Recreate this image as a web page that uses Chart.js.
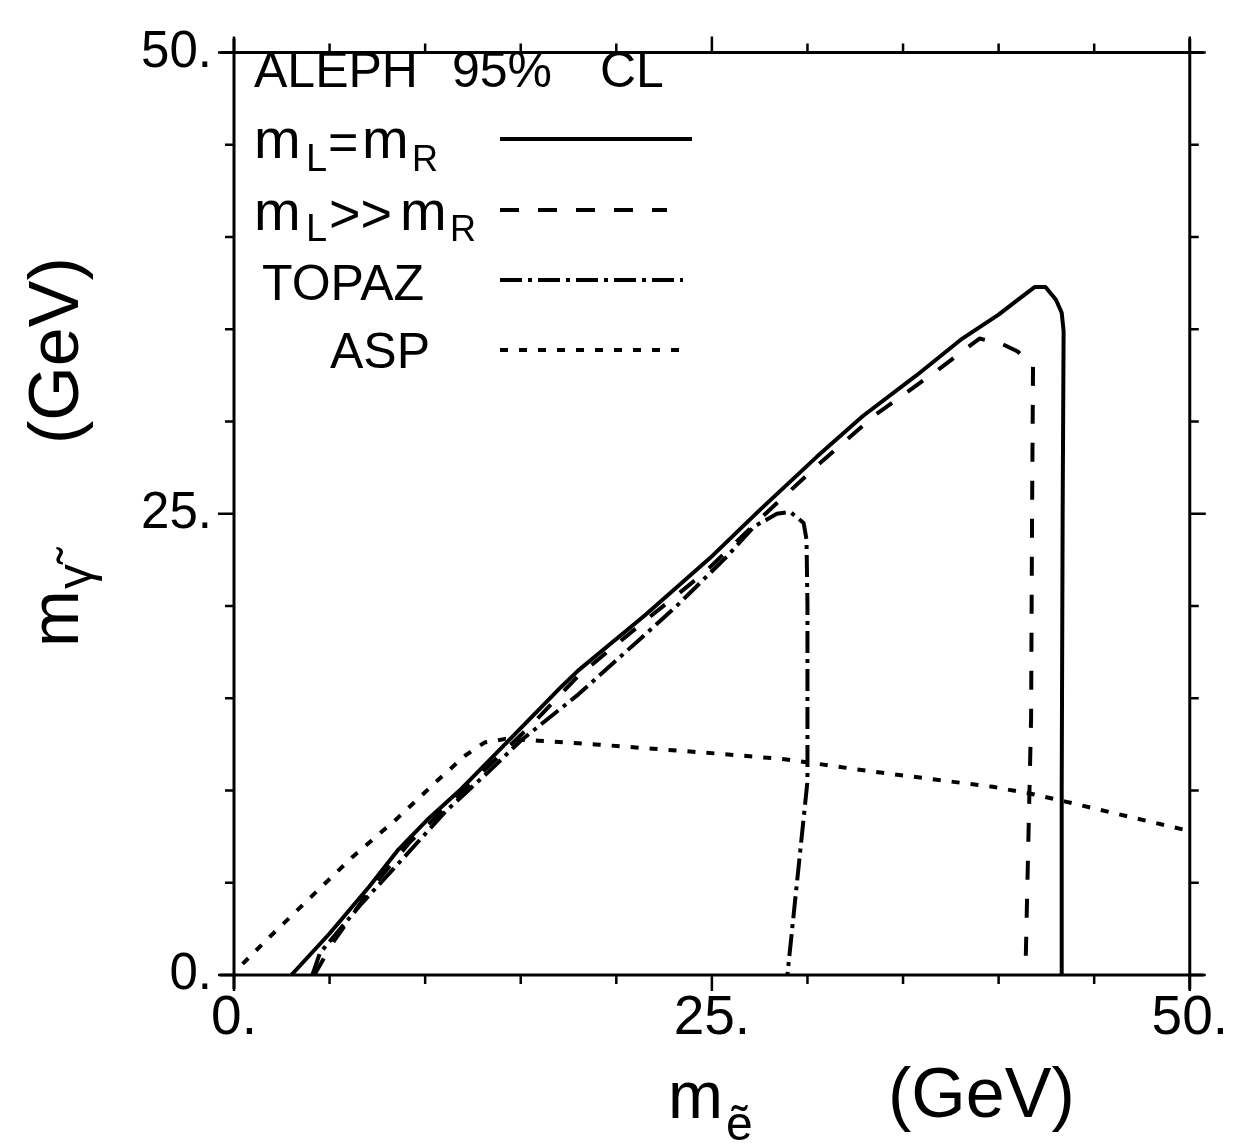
<!DOCTYPE html>
<html>
<head>
<meta charset="utf-8">
<script src="https://cdn.jsdelivr.net/npm/chart.js@4.4.1/dist/chart.umd.min.js"></script>
<style>
  html, body { margin: 0; padding: 0; background: #fff; }
  canvas { display: block; }
</style>
</head>
<body>
<canvas id="limits" width="1239" height="1146"></canvas>
<script>
// ALEPH 95% CL excluded region, selectron mass (x) vs photino mass (y), GeV

// m_L = m_R (solid)
const eqX = [3.0, 5.0, 7.08, 8.6, 10.2, 11.9, 13.7, 15.4, 17.1, 18.0, 21.5, 24.9, 27.5, 30.5, 32.9, 35.7, 38.1, 40.0, 41.0, 41.9, 42.45, 43.0, 43.3, 43.4, 43.35, 43.3, 43.3];
const eqY = [0, 2.25, 4.8, 6.8, 8.5, 10.1, 12.0, 13.8, 15.6, 16.5, 19.5, 22.6, 25.2, 28.1, 30.3, 32.5, 34.5, 35.8, 36.6, 37.3, 37.3, 36.6, 35.9, 34.9, 25.0, 10.0, 0];

// m_L >> m_R (dashed)
const llX = [4.2, 5.2, 7.1, 9.2, 11.9, 13.9, 15.6, 18.0, 21.5, 24.6, 27.7, 30.6, 33.6, 36.7, 39.0, 40.2, 41.0, 41.8, 41.75, 41.7, 41.4];
const llY = [0, 1.8, 4.6, 7.2, 9.9, 11.9, 13.6, 16.2, 19.2, 21.8, 24.9, 27.7, 30.4, 32.7, 34.5, 34.2, 33.8, 33.0, 25.0, 14.0, 0];

// TOPAZ (dash-dot)
const topazX = [4.1, 4.5, 6.7, 9.0, 11.1, 13.3, 15.0, 18.0, 21.5, 23.2, 25.8, 27.2, 28.4, 29.1, 29.8, 29.95, 30.0, 30.0, 28.95];
const topazY = [0, 1.2, 3.9, 6.5, 8.9, 11.0, 12.7, 15.2, 18.45, 20.05, 22.7, 24.3, 25.0, 25.1, 24.5, 23.6, 20.0, 10.5, 0];

// ASP (dotted)
const aspX = [0.45, 1.9, 4.1, 6.2, 8.5, 10.6, 12.1, 13.1, 14.2, 15.9, 18.9, 24.7, 28.8, 33.6, 39.7, 41.8, 43.5, 50];
const aspY = [0.6, 2.1, 4.3, 6.4, 8.45, 10.5, 11.9, 12.6, 12.8, 12.7, 12.5, 12.05, 11.7, 11.0, 10.2, 9.8, 9.4, 7.8];

const tickStep = 5;
const labelledTicks = [0, 25, 50];

const FONT = "'Liberation Sans', Arial, sans-serif";

function pts(xs, ys) {
    return xs.map((x, i) => ({ x: x, y: ys[i] }));
}

function curve(label, xs, ys, dash) {
    return {
        label: label,
        data: pts(xs, ys),
        showLine: true,
        borderColor: '#000',
        borderWidth: 4,
        borderDash: dash,
        borderJoinStyle: 'round',
        pointRadius: 0,
        fill: false,
        tension: 0
    };
}

function txt(ctx, s, size, x, y) {
    ctx.font = size + 'px ' + FONT;
    ctx.fillText(s, x, y);
}

// axes frame with outward ticks on all four sides
const frame = {
    id: 'frame',
    afterDraw(chart) {
        const { ctx, chartArea: a, scales: { x, y } } = chart;
        ctx.save();
        ctx.strokeStyle = '#000';
        ctx.lineWidth = 3;
        const ext = 14;
        ctx.beginPath();
        ctx.moveTo(a.left - ext, a.top); ctx.lineTo(a.right + ext, a.top);
        ctx.moveTo(a.left - ext, a.bottom); ctx.lineTo(a.right + ext, a.bottom);
        ctx.moveTo(a.left, a.top - ext); ctx.lineTo(a.left, a.bottom + ext);
        ctx.moveTo(a.right, a.top - ext); ctx.lineTo(a.right, a.bottom + ext);
        ctx.stroke();

        ctx.lineWidth = 2.5;
        ctx.beginPath();
        x.ticks.forEach(t => {
            const px = x.getPixelForValue(t.value);
            const len = labelledTicks.includes(t.value) ? 16 : 9;
            ctx.moveTo(px, a.bottom); ctx.lineTo(px, a.bottom + len);
            ctx.moveTo(px, a.top); ctx.lineTo(px, a.top - len);
        });
        y.ticks.forEach(t => {
            const py = y.getPixelForValue(t.value);
            const len = labelledTicks.includes(t.value) ? 16 : 9;
            ctx.moveTo(a.left, py); ctx.lineTo(a.left - len, py);
            ctx.moveTo(a.right, py); ctx.lineTo(a.right + len, py);
        });
        ctx.stroke();
        ctx.restore();
    }
};

// legend block and axis titles
const texts = {
    id: 'texts',
    afterDraw(chart) {
        const ctx = chart.ctx;
        const ds = chart.data.datasets;
        ctx.save();
        ctx.fillStyle = '#000';
        ctx.textBaseline = 'alphabetic';
        ctx.textAlign = 'left';

        txt(ctx, 'ALEPH', 50, 254, 87);
        txt(ctx, '95%', 50, 452, 87);
        txt(ctx, 'CL', 50, 600, 87);

        // m_L = m_R
        txt(ctx, 'm', 56, 254, 158);
        txt(ctx, 'L', 38, 306, 171);
        txt(ctx, '=', 52, 328, 160);
        txt(ctx, 'm', 56, 362, 158);
        txt(ctx, 'R', 36, 412, 171);
        // m_L >> m_R
        txt(ctx, 'm', 56, 254, 230);
        txt(ctx, 'L', 38, 306, 241);
        txt(ctx, '>>', 54, 329, 232);
        txt(ctx, 'm', 56, 400, 230);
        txt(ctx, 'R', 36, 450, 241);

        txt(ctx, 'TOPAZ', 50, 262, 300);
        txt(ctx, 'ASP', 50, 330, 368);

        const samples = [[139, 692], [210, 667], [280, 683], [350, 680]];
        samples.forEach((s, i) => {
            ctx.lineWidth = 4;
            ctx.setLineDash(ds[i].borderDash || []);
            ctx.beginPath();
            ctx.moveTo(500, s[0]);
            ctx.lineTo(s[1], s[0]);
            ctx.stroke();
        });
        ctx.setLineDash([]);

        // x title
        txt(ctx, 'm', 66, 668, 1118);
        txt(ctx, 'ẽ', 48, 726, 1140);
        txt(ctx, '(GeV)', 70, 888, 1117);

        // y title (rotated)
        ctx.save();
        ctx.translate(78, 647);
        ctx.rotate(-Math.PI / 2);
        txt(ctx, 'm', 68, 0, 0);
        txt(ctx, 'γ̃', 50, 58, 14);
        ctx.restore();
        ctx.save();
        ctx.translate(78, 444);
        ctx.rotate(-Math.PI / 2);
        txt(ctx, '(GeV)', 70, 0, 0);
        ctx.restore();

        ctx.restore();
    }
};

Chart.defaults.font.family = FONT;
Chart.defaults.color = '#000';

const tickLabel = v => labelledTicks.includes(v) ? v + '.' : '';

new Chart(document.getElementById('limits'), {
    type: 'scatter',
    data: {
        datasets: [
            curve('m_L=m_R', eqX, eqY, []),
            curve('m_L>>m_R', llX, llY, [19, 19]),
            curve('TOPAZ', topazX, topazY, [22, 6, 4, 6]),
            curve('ASP', aspX, aspY, [8, 11])
        ]
    },
    options: {
        responsive: false,
        animation: false,
        events: [],
        layout: { padding: { top: 40, right: 44, left: 0, bottom: 0 } },
        plugins: { legend: { display: false }, tooltip: { enabled: false } },
        scales: {
            x: {
                type: 'linear', min: 0, max: 50,
                grid: { display: false, drawTicks: false },
                border: { display: false },
                ticks: { stepSize: tickStep, autoSkip: false, maxRotation: 0, padding: 11,
                         font: { size: 55 }, callback: tickLabel },
                afterFit: s => { s.height = 171; }
            },
            y: {
                type: 'linear', min: 0, max: 50,
                grid: { display: false, drawTicks: false },
                border: { display: false },
                ticks: { stepSize: tickStep, autoSkip: false, padding: 22,
                         font: { size: 51 }, callback: tickLabel },
                afterFit: s => { s.width = 234; }
            }
        }
    },
    plugins: [frame, texts]
});
</script>
</body>
</html>
